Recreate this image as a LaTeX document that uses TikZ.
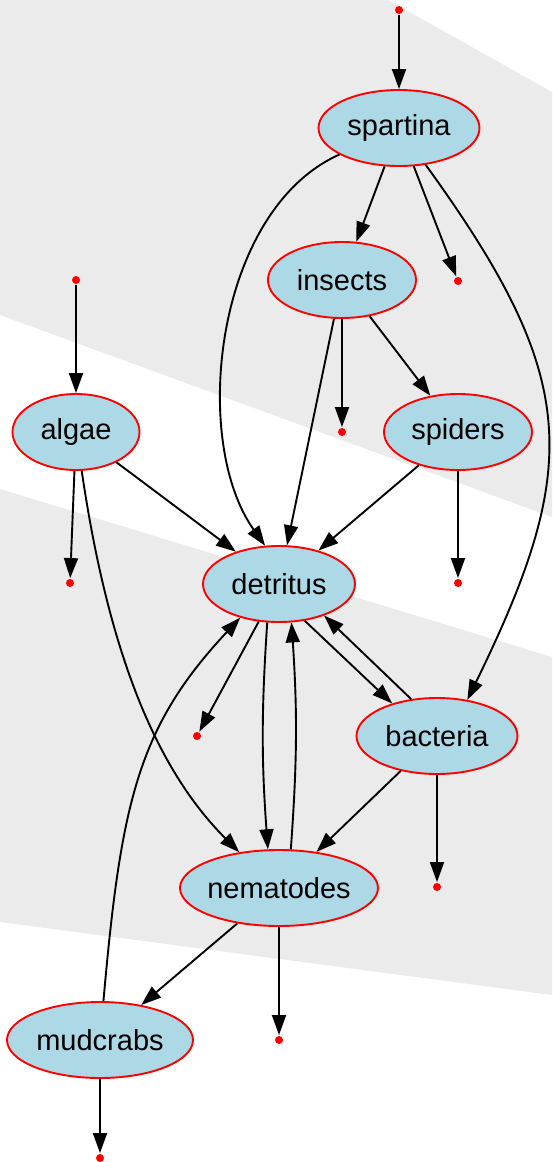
\documentclass[tikz,border=0pt]{standalone}
\usepackage{fontspec}
\setmainfont{Liberation Sans}
\usetikzlibrary{shapes.geometric,arrows.meta}
\definecolor{band}{RGB}{235,235,235}
\definecolor{nodefill}{RGB}{173,216,230}
\begin{document}
\begin{tikzpicture}[x=1pt, y=1pt, >={Triangle[length=20pt,width=14pt]}, line width=1.9pt,
  blob/.style={ellipse, draw=red, fill=nodefill, minimum height=76pt, inner sep=0pt, font=\fontsize{29}{34}\selectfont},
  endpt/.style={circle, fill=red, inner sep=0pt, minimum size=8pt}]
\useasboundingbox (0,0) rectangle (552,-1162);
\fill[band] (0,0)--(388,0)--(552,-92)--(552,-517)--(0,-315)--cycle;
\fill[band] (0,-489)--(552,-657)--(552,-995)--(0,-922)--cycle;

\node[blob, minimum width=161pt] (spartina) at (399,-128) {spartina};
\node[blob, minimum width=148pt] (insects) at (342,-280) {insects};
\node[blob, minimum width=127pt] (algae) at (76,-432) {algae};
\node[blob, minimum width=148pt] (spiders) at (458,-432) {spiders};
\node[blob, minimum width=152pt] (detritus) at (279,-584) {detritus};
\node[blob, minimum width=161pt] (bacteria) at (437,-736) {bacteria};
\node[blob, minimum width=198pt, inner xsep=-2pt] (nematodes) at (279,-888) {nematodes};
\node[blob, minimum width=186pt] (mudcrabs) at (100,-1040) {mudcrabs};

\foreach \n/\x/\y in {src1/399/10, src2/76/280, o1/458/281, o2/342/432, o3/70/583, o4/458/583,
                      o5/197/736, o6/437/887, o7/279/1040, o8/100/1158}
{
    \node[endpt] (\n) at (\x,-\y) {};
}

\draw[->] (src1) -- (spartina);
\draw[->] (src2) -- (algae);
\draw[->] (spartina) -- (insects);
\draw[->] (spartina) -- (o1);
\draw[->] (spartina) .. controls (215,-210) and (190,-440) .. (detritus.110);
\draw[->] (spartina) .. controls (580,-378) and (582,-465) .. (bacteria.50);

\draw[->] (insects) -- (o2);
\draw[->] (insects) -- (detritus);
\draw[->] (insects) -- (spiders);

\draw[->] (algae) -- (o3);
\draw[->] (algae) -- (detritus);
\draw[->] (algae) .. controls (108,-650) and (155,-768) .. (nematodes.138);

\draw[->] (spiders) -- (detritus);
\draw[->] (spiders) -- (o4);

\draw[->] (detritus) -- (o5);
\draw[->] (detritus.253) to[bend right=4] (nematodes.106);
\draw[->] (nematodes.73) to[bend right=4] (detritus.288);
\draw[->] (detritus.305) -- (bacteria.144);
\draw[->] (bacteria.125) -- (detritus.325);

\draw[->] (bacteria) -- (nematodes);
\draw[->] (bacteria) -- (o6);
\draw[->] (nematodes) -- (mudcrabs);
\draw[->] (nematodes) -- (o7);
\draw[->] (mudcrabs) .. controls (121,-802) and (138,-727) .. (detritus.221);
\draw[->] (mudcrabs) -- (o8);
\end{tikzpicture}
\end{document}
